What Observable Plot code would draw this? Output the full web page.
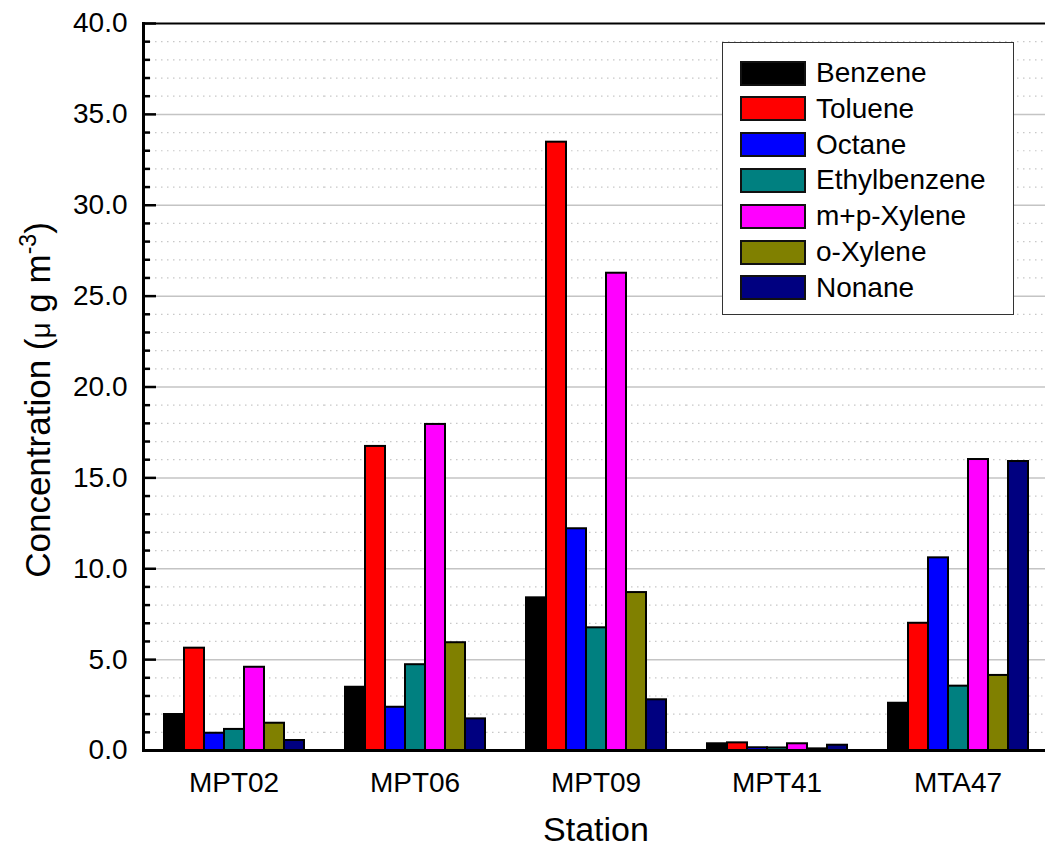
<!DOCTYPE html>
<html>
<head>
<meta charset="utf-8">
<script src="https://cdn.jsdelivr.net/npm/d3@7"></script>
<script src="https://cdn.jsdelivr.net/npm/@observablehq/plot@0.6"></script>
<style>
  html, body { margin: 0; padding: 0; background: white; overflow: hidden; }
  #wrap { position: relative; width: 1045px; height: 850px; overflow: hidden; font-family: "Liberation Sans", Arial, sans-serif; }
  #legend { position: absolute; left: 722px; top: 42px; width: 290px; height: 271px; border: 1.5px solid #333; background: white; box-sizing: content-box; }
  .row { position: absolute; left: 17px; height: 24px; display: flex; align-items: center; }
  .sw { width: 62px; height: 21px; border: 2px solid #111; box-sizing: content-box; flex: none; }
  .lab { margin-left: 10px; font-size: 28px; color: #000; line-height: 28px; white-space: nowrap; }
</style>
</head>
<body>
<div id="wrap"></div>
<script>
const stations = ["MPT02", "MPT06", "MPT09", "MPT41", "MTA47"];
const compounds = ["Benzene", "Toluene", "Octane", "Ethylbenzene", "m+p-Xylene", "o-Xylene", "Nonane"];
const colors = ["#000000", "#FF0000", "#0000FF", "#008080", "#FF00FF", "#808000", "#000080"];

// values per compound, in station order
const benzene      = [1.98, 3.48, 8.40, 0.37, 2.60];
const toluene      = [5.63, 16.73, 33.47, 0.42, 7.00];
const octane       = [0.95, 2.38, 12.20, 0.15, 10.60];
const ethylbenzene = [1.16, 4.72, 6.75, 0.14, 3.54];
const mpXylene     = [4.58, 17.94, 26.26, 0.37, 16.01];
const oXylene      = [1.50, 5.93, 8.69, 0.09, 4.13];
const nonane       = [0.55, 1.74, 2.79, 0.29, 15.90];

const yMajorTicks = [0, 5, 10, 15, 20, 25, 30, 35, 40];
const yMinorTicks = d3.range(0, 41, 1).filter(v => v % 5 !== 0);

const seriesValues = [benzene, toluene, octane, ethylbenzene, mpXylene, oXylene, nonane];
const data = [];
stations.forEach((s, i) => {
  compounds.forEach((c, j) => data.push({station: s, compound: c, value: seriesValues[j][i]}));
});

const chart = Plot.plot({
  width: 1048,
  height: 850,
  marginLeft: 143,
  marginRight: 0,
  marginTop: 23,
  marginBottom: 100,
  style: {background: "transparent", fontFamily: "'Liberation Sans', Arial, sans-serif", fontSize: "28px", maxWidth: "none", overflow: "visible"},
  fx: {domain: stations, padding: 0, label: null, axis: null},
  x: {domain: compounds, paddingInner: 0, paddingOuter: 0.81, axis: null},
  y: {domain: [0, 40], axis: null},
  color: {domain: compounds, range: colors},
  marks: [
    Plot.ruleY(yMinorTicks, {stroke: "#c8c8c8", strokeWidth: 1.2, strokeDasharray: "1.5,4.5"}),
    Plot.ruleY(yMajorTicks.filter(v => v > 0 && v < 40), {stroke: "#c4c4c4", strokeWidth: 1.5}),
    Plot.barY(data, {fx: "station", x: "compound", y: "value", fill: "compound", stroke: "black", strokeWidth: 2, inset: 0}),
    Plot.ruleY([0], {stroke: "black", strokeWidth: 3}),
    Plot.ruleY([40], {stroke: "black", strokeWidth: 2}),
    Plot.frame({anchor: "left", facetAnchor: "left", stroke: "black", strokeWidth: 3}),
    Plot.axisY(yMajorTicks, {tickSize: 0, tickPadding: 16, tickFormat: d => d.toFixed(1), fontSize: 28, fill: "black", label: null}),
    Plot.axisY(yMajorTicks, {tickSize: 13, dx: 13, fill: "none", stroke: "black", strokeWidth: 2.5, label: null}),
    Plot.axisY(yMinorTicks, {tickSize: 7, dx: 7, fill: "none", stroke: "black", strokeWidth: 2.5, label: null}),
    Plot.axisFx({anchor: "bottom", tickSize: 0, tickPadding: 22, fontSize: 28, fill: "black", label: null})
  ]
});

const wrap = document.getElementById("wrap");
wrap.appendChild(chart);

// axis titles
const svg = d3.select(chart.tagName.toLowerCase() === "svg" ? chart : chart.querySelector("svg"));
const yt = svg.append("text")
  .attr("transform", "translate(50,400) rotate(-90)")
  .attr("text-anchor", "middle")
  .style("font-size", "35px")
  .style("font-family", "'Liberation Sans', Arial, sans-serif")
  .attr("fill", "black");
yt.append("tspan").text("Concentration (");
yt.append("tspan").text("μ").style("font-size", "28px");
yt.append("tspan").text(" g m");
yt.append("tspan").text("-3").attr("dy", "-14").style("font-size", "23px");
yt.append("tspan").text(")").attr("dy", "14");

svg.append("text")
  .attr("x", 596)
  .attr("y", 841)
  .attr("text-anchor", "middle")
  .style("font-size", "34px")
  .style("font-family", "'Liberation Sans', Arial, sans-serif")
  .attr("fill", "black")
  .text("Station");

// legend
const legend = document.createElement("div");
legend.id = "legend";
compounds.forEach((c, i) => {
  const row = document.createElement("div");
  row.className = "row";
  row.style.top = (18 + i * 35.8) + "px";
  const sw = document.createElement("div");
  sw.className = "sw";
  sw.style.background = colors[i];
  const lab = document.createElement("div");
  lab.className = "lab";
  lab.textContent = c;
  row.appendChild(sw);
  row.appendChild(lab);
  legend.appendChild(row);
});
wrap.appendChild(legend);
</script>
</body>
</html>
